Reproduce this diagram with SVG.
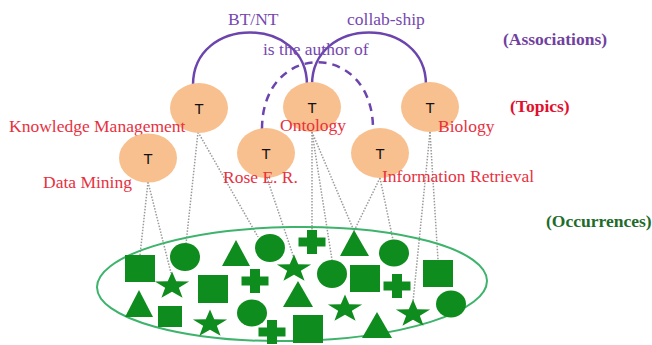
<svg xmlns="http://www.w3.org/2000/svg" width="652" height="345" viewBox="0 0 652 345">
<style>
.topic{fill:#F8C08E}
.t{font-family:"Liberation Sans",Arial,sans-serif;font-size:15px;fill:#111;text-anchor:middle}
.lbl{font-family:"Liberation Serif","Times New Roman",serif;font-size:17.5px;fill:#E8313F}
.assoc{font-family:"Liberation Serif","Times New Roman",serif;font-size:17.5px;fill:#7548B0}
.hdr{font-family:"Liberation Serif","Times New Roman",serif;font-size:17.5px;font-weight:bold}
.occ{stroke:#9A9A9A;stroke-width:1.5;stroke-dasharray:1.5 1.5;fill:none}
.arc{stroke:#6B44AE;stroke-width:2.5;fill:none}
.dash{stroke-dasharray:8 6}
.g{fill:#0F8C1E}
</style>
<defs>
<path id="star" d="M0,-14.4 L4.23,-4.66 L17.12,-4.45 L6.85,1.78 L10.58,11.65 L0,5.76 L-10.58,11.65 L-6.85,1.78 L-17.12,-4.45 L-4.23,-4.66 Z"/>
<path id="cross" d="M-5,-12 H5 V-4.5 H13.5 V4.5 H5 V12 H-5 V4.5 H-13.5 V-4.5 H-5 Z"/>
</defs>

<g id="connectors">
<line class="occ" x1="148" y1="182" x2="140" y2="255"/>
<line class="occ" x1="148" y1="182" x2="171" y2="273"/>
<line class="occ" x1="198" y1="132" x2="186" y2="244"/>
<line class="occ" x1="198" y1="132" x2="258" y2="237"/>
<line class="occ" x1="267" y1="178" x2="294" y2="258"/>
<line class="occ" x1="312" y1="132" x2="312" y2="231"/>
<line class="occ" x1="312" y1="132" x2="332" y2="260"/>
<line class="occ" x1="312" y1="132" x2="354" y2="231"/>
<line class="occ" x1="380" y1="178" x2="354" y2="231"/>
<line class="occ" x1="380" y1="178" x2="393" y2="240"/>
<line class="occ" x1="430" y1="132" x2="413" y2="302"/>
<line class="occ" x1="430" y1="132" x2="438" y2="260"/>
<path class="arc" d="M193,85 C193,15 307,15 307,85"/>
<path class="arc" d="M312,85 C312,15 426,15 426,85"/>
<path class="arc dash" d="M262,129 C262,40 373,40 373,129"/>
</g>

<g id="occurrences">
<ellipse cx="292" cy="284" rx="195" ry="57" transform="rotate(-1 292 284)" fill="none" stroke="#3DB36B" stroke-width="2"/>
<rect class="g" x="125" y="255" width="30" height="27"/>
<rect class="g" x="198" y="275" width="30" height="28"/>
<rect class="g" x="350" y="265" width="30" height="27"/>
<rect class="g" x="158" y="306" width="24" height="21"/>
<rect class="g" x="293" y="315" width="30" height="28"/>
<rect class="g" x="423" y="260" width="30" height="27"/>
<ellipse class="g" cx="185" cy="257" rx="15" ry="14"/>
<ellipse class="g" cx="270" cy="248" rx="15" ry="14"/>
<ellipse class="g" cx="332" cy="274" rx="15" ry="14"/>
<ellipse class="g" cx="252" cy="313" rx="15" ry="13.5"/>
<ellipse class="g" cx="394" cy="253" rx="15" ry="13.5"/>
<ellipse class="g" cx="451" cy="304" rx="15" ry="13.5"/>
<polygon class="g" points="236,240 250,266 222,266"/>
<polygon class="g" points="354,230 369,256 340,256"/>
<polygon class="g" points="139,290 153,317 125,317"/>
<polygon class="g" points="298,281 313,307 283,307"/>
<polygon class="g" points="377,312 392,338 362,338"/>
<use href="#star" class="g" x="172" y="286"/>
<use href="#star" class="g" x="294" y="269"/>
<use href="#star" class="g" x="210" y="324"/>
<use href="#star" class="g" x="345" y="309"/>
<use href="#star" class="g" x="413" y="314"/>
<use href="#cross" class="g" x="312" y="242"/>
<use href="#cross" class="g" x="255" y="281"/>
<use href="#cross" class="g" x="272" y="332"/>
<use href="#cross" class="g" x="397" y="286"/>
</g>

<g id="assoc-labels">
<text class="assoc" x="228" y="25">BT/NT</text>
<text class="assoc" x="347" y="25">collab-ship</text>
<text class="assoc" x="263" y="55">is the author of</text>
</g>

<g id="topic-km">
<ellipse class="topic" cx="199" cy="108" rx="29" ry="25"/>
<text class="t" x="199" y="113.5">T</text>
<text class="lbl" x="9" y="132">Knowledge Management</text>
</g>
<g id="topic-ontology">
<ellipse class="topic" cx="312" cy="107" rx="29" ry="25"/>
<text class="t" x="312" y="112.5">T</text>
<text class="lbl" x="280" y="131">Ontology</text>
</g>
<g id="topic-biology">
<ellipse class="topic" cx="430" cy="107" rx="29" ry="25"/>
<text class="t" x="430" y="112.5">T</text>
<text class="lbl" x="438" y="132">Biology</text>
</g>
<g id="topic-dm">
<ellipse class="topic" cx="148" cy="158" rx="29" ry="24.5"/>
<text class="t" x="148" y="163.5">T</text>
<text class="lbl" x="43" y="188">Data Mining</text>
</g>
<g id="topic-rose">
<ellipse class="topic" cx="266" cy="153" rx="29" ry="25"/>
<text class="t" x="266" y="158.5">T</text>
<text class="lbl" x="223" y="183">Rose E. R.</text>
</g>
<g id="topic-ir">
<ellipse class="topic" cx="380" cy="153" rx="29" ry="25"/>
<text class="t" x="380" y="158.5">T</text>
<text class="lbl" x="382" y="182">Information Retrieval</text>
</g>

<g id="legend">
<text class="hdr" x="503" y="45" fill="#7040A0">(Associations)</text>
<text class="hdr" x="510" y="112" fill="#E0102E">(Topics)</text>
<text class="hdr" x="546" y="227" fill="#1E6B2A">(Occurrences)</text>
</g>
</svg>
